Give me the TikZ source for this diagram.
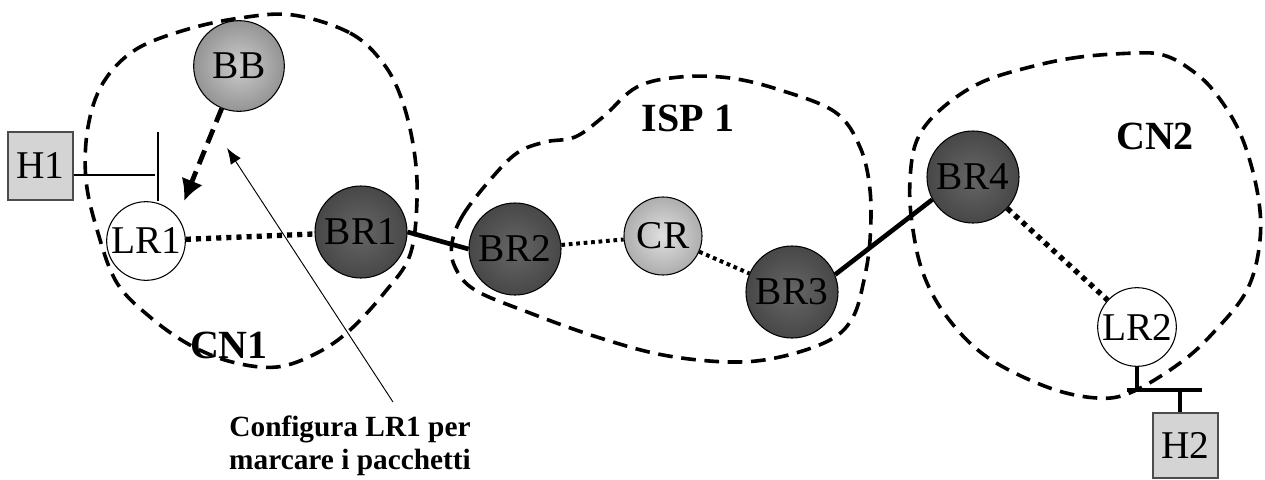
\documentclass[tikz,border=0pt]{standalone}
\usepackage{fontspec}
\setmainfont{Liberation Serif}
\usetikzlibrary{arrows.meta}
\definecolor{bbIn}{gray}{0.80}
\definecolor{bbOut}{gray}{0.36}
\definecolor{brIn}{gray}{0.40}
\definecolor{brOut}{gray}{0.16}
\definecolor{crIn}{gray}{0.88}
\definecolor{crOut}{gray}{0.48}
\definecolor{hostfill}{gray}{0.83}
\pgfdeclareradialshading{bbshade}{\pgfpoint{0bp}{0bp}}{color(0bp)=(bbIn); color(50bp)=(bbOut)}
\pgfdeclareradialshading{brshade}{\pgfpoint{0bp}{0bp}}{color(0bp)=(brIn); color(50bp)=(brOut)}
\pgfdeclareradialshading{crshade}{\pgfpoint{0bp}{0bp}}{color(0bp)=(crIn); color(50bp)=(crOut)}
\tikzset{
  nodefont/.style={font=\fontsize{29.5}{30}\selectfont},
  ballbase/.style={circle, draw=black, line width=0.8pt, inner sep=0pt, nodefont},
  bbball/.style={ballbase, shading=bbshade, minimum size=68pt},
  brball/.style={ballbase, shading=brshade, minimum size=69pt},
  crball/.style={ballbase, shading=crshade, minimum size=58.5pt},
  lrball/.style={ballbase, fill=white, minimum size=59pt},
  hostbox/.style={draw=black!70, line width=0.8pt, fill=hostfill, inner sep=0pt, nodefont},
  cloud/.style={line width=2.7pt, dash pattern=on 11pt off 6.5pt},
  cloudlabel/.style={font=\fontsize{30}{32}\selectfont\bfseries},
  thicklink/.style={line width=3.5pt},
  dotlink/.style={line width=4pt, dash pattern=on 3.8pt off 3.8pt},
  thindotlink/.style={line width=3pt, dash pattern=on 2.8pt off 2.8pt},
  busline/.style={line width=1.6pt},
  h2bus/.style={line width=2.8pt},
  bbarrow/.style={line width=3.6pt, dash pattern=on 11pt off 6pt, -{Latex[length=16pt,width=17pt]}},
  notearrow/.style={line width=0.7pt, -{Latex[length=12pt,width=9pt]}},
}
\begin{document}
\begin{tikzpicture}[x=0.75pt, y=-0.75pt]
\useasboundingbox (0,0) rectangle (1265,479);

% hosts
\node[hostbox, minimum width=48.75pt, minimum height=51pt] (H1) at (40.5,166) {H1};
\node[hostbox, minimum width=48.75pt, minimum height=48.75pt] (H2) at (1185.5,445.5) {H2};

% routers
\node[bbball] (BB) at (239,66) {BB};
\node[lrball] (LR1) at (146,241) {LR1};
\node[brball] (BR1) at (361,232) {BR1};
\node[brball] (BR2) at (515,249) {BR2};
\node[crball] (CR) at (663,236) {CR};
\node[brball] (BR3) at (792,292) {BR3};
\node[brball] (BR4) at (973,177) {BR4};
\node[lrball] (LR2) at (1137,327) {LR2};

\node[cloudlabel] (cn1) at (229,345) {CN1};
\node[cloudlabel] (isp) at (688,118) {ISP 1};
\node[cloudlabel] (cn2) at (1155,136) {CN2};

% H1 attachment
\coordinate (bar1t) at (158,132);
\coordinate (h1tap) at (155,175);
\draw[busline] (bar1t) -- (bar1t |- LR1.north);
\draw[busline] (H1.east |- h1tap) -- (h1tap);

% H2 attachment
\coordinate (b2l) at (1127,390);
\coordinate (b2r) at (1202,390);
\coordinate (b2tap) at (1180,390);
\draw[h2bus] (LR2.south) -- (LR2.south |- b2l);
\draw[h2bus] (b2l) -- (b2r);
\draw[h2bus] (b2tap) -- (b2tap |- H2.north);

% links
\draw[dotlink] (LR1) -- (BR1);
\draw[thicklink] (BR1.east) -- (BR2.west);
\draw[thindotlink] (BR2) -- (CR);
\draw[thindotlink] (CR) -- (BR3);
\draw[thicklink] (BR3.22) -- (BR4.209);
\draw[dotlink] (BR4) -- (LR2);

% clouds
\draw[cloud] plot[smooth cycle, tension=0.6] coordinates {
  (293,15) (350,33) (383,63) (402,100) (414,150) (417,200) (410,255)
  (385,292) (350,330) (317,353) (277,367) (232,362) (190,345)
  (150,317) (117,283) (98,233) (86,180) (88,127) (103,83) (135,50)
  (185,30) (240,18)};
\draw[cloud] plot[smooth cycle, tension=0.6] coordinates {
  (452,243) (463,215) (490,180) (517,153) (545,142) (575,137)
  (603,117) (637,87) (680,77) (730,78) (780,90) (835,112) (860,147)
  (870,190) (870,240) (864,280) (853,317) (830,340) (780,357)
  (730,362) (663,355) (597,337) (530,313) (475,290) (455,267)};
\draw[cloud] plot[smooth cycle, tension=0.6] coordinates {
  (1137,53) (1080,57) (1030,67) (980,83) (940,110) (917,140) (910,180)
  (912,223) (923,273) (947,317) (987,357) (1047,387) (1097,398)
  (1132,392) (1180,363) (1213,333) (1247,290) (1260,240) (1257,190)
  (1240,133) (1213,90) (1187,67) (1163,55)};

% BB arrow
\coordinate (bbtip) at (184,201);
\draw[bbarrow] (BB) -- (bbtip);

% note
\node[font=\fontsize{22}{25}\selectfont\bfseries, align=center] (cfg) at (350,446)
  {Configura LR1 per\\marcare i pacchetti};
\coordinate (cfgtail) at (393,402);
\coordinate (cfghead) at (227,148);
\draw[notearrow] (cfgtail) -- (cfghead);
\end{tikzpicture}
\end{document}
